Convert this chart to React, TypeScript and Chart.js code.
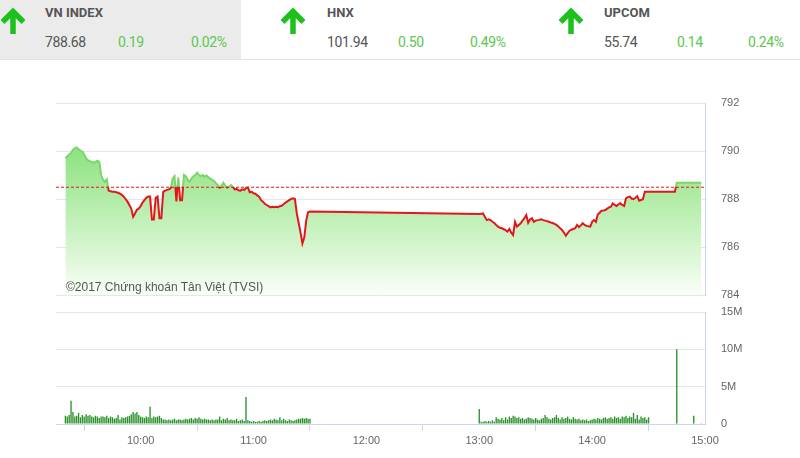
import React, { useEffect, useRef } from 'react';
import { Chart, registerables } from 'chart.js';

Chart.register(...registerables);

// ---------- data ----------
const REF_VALUE = 788.49;
const X_MIN = '9:15';
const X_MAX = '15:00';

const lineTimes = [
  '9:20','9:21','9:22','9:23','9:24','9:25','9:26','9:27','9:28','9:29',
  '9:30','9:31','9:32','9:33','9:34','9:35','9:36','9:37','9:38','9:39',
  '9:40','9:41','9:42','9:43','9:44','9:45','9:46','9:47','9:48','9:49',
  '9:50','9:51','9:52','9:53','9:54','9:55','9:56','9:57','9:58','9:59',
  '10:00','10:01','10:02','10:03','10:04','10:05','10:06','10:07','10:08','10:09',
  '10:10','10:11','10:12','10:13','10:14','10:15','10:16','10:17','10:18','10:19',
  '10:20','10:21','10:22','10:23','10:24','10:25','10:26','10:27','10:28','10:29',
  '10:30','10:31','10:32','10:33','10:34','10:35','10:36','10:37','10:38','10:39',
  '10:40','10:41','10:42','10:43','10:44','10:45','10:46','10:47','10:48','10:49',
  '10:50','10:51','10:52','10:53','10:54','10:55','10:56','10:57','10:58','10:59',
  '11:00','11:01','11:02','11:03','11:04','11:05','11:06','11:07','11:08','11:09',
  '11:10','11:11','11:12','11:13','11:14','11:15','11:16','11:17','11:18','11:19',
  '11:20','11:21','11:22','11:23','11:24','11:25','11:26','11:27','11:28','11:29',
  '11:30',
  '13:00','13:02','13:03','13:04','13:05','13:06','13:07','13:08','13:09',
  '13:10','13:11','13:12','13:13','13:14','13:15','13:16','13:17','13:18','13:19',
  '13:20','13:21','13:22','13:23','13:24','13:25','13:26','13:27','13:28','13:29',
  '13:30','13:31','13:32','13:33','13:34','13:35','13:36','13:37','13:38','13:39',
  '13:40','13:41','13:42','13:43','13:44','13:45','13:46','13:47','13:48','13:49',
  '13:50','13:51','13:52','13:53','13:54','13:55','13:56','13:57','13:58','13:59',
  '14:00','14:01','14:02','14:03','14:04','14:05','14:06','14:07','14:08','14:09',
  '14:10','14:11','14:12','14:13','14:14','14:15','14:16','14:17','14:18','14:19',
  '14:20','14:21','14:22','14:23','14:24','14:25','14:26','14:27','14:28',
  '14:44','14:45','14:58',
];

const lineValues = [
  789.70, 789.78, 789.85, 789.92, 790.05, 790.12, 790.15, 790.07, 790.02, 789.97,
  789.85, 789.70, 789.62, 789.58, 789.55, 789.51, 789.55, 789.60, 789.55, 789.00,
  788.80, 788.72, 788.82, 788.35, 788.32, 788.30, 788.30, 788.28, 788.26, 788.22,
  788.17, 788.10, 788.00, 787.89, 787.75, 787.60, 787.26, 787.40, 787.55, 787.60,
  787.70, 787.85, 787.95, 788.05, 788.10, 788.10, 787.15, 787.15, 788.05, 788.10,
  787.20, 787.20, 788.30, 788.35, 788.38, 788.40, 788.45, 788.85, 788.95, 787.90,
  788.90, 787.95, 787.95, 789.00, 788.95, 788.80, 788.72, 788.85, 788.95, 789.00,
  789.10, 789.00, 788.95, 789.00, 788.93, 788.98, 788.90, 788.85, 788.80, 788.75,
  788.66, 788.58, 788.47, 788.55, 788.68, 788.55, 788.48, 788.52, 788.58, 788.50,
  788.40, 788.42, 788.36, 788.35, 788.40, 788.38, 788.45, 788.49, 788.28, 788.30,
  788.24, 788.22, 788.15, 788.10, 787.95, 787.89, 787.80, 787.75, 787.70, 787.65,
  787.68, 787.66, 787.68, 787.66, 787.70, 787.72, 787.78, 787.85, 787.90, 787.95,
  788.00, 788.03, 788.00, 787.40, 787.00, 786.60, 786.15, 786.40, 787.10, 787.45,
  787.48,
  787.37, 787.40, 787.25, 787.12, 787.15, 787.12, 787.05, 787.00, 786.92,
  786.85, 786.80, 786.78, 786.74, 786.70, 786.64, 786.75, 786.60, 786.50, 787.05,
  786.85, 786.92, 786.99, 787.10, 787.20, 787.33, 787.01, 787.15, 787.20, 787.05,
  787.10, 787.12, 787.13, 787.15, 787.12, 787.10, 787.08, 787.05, 787.02, 787.00,
  786.96, 786.92, 786.85, 786.78, 786.71, 786.60, 786.47, 786.58, 786.68, 786.72,
  786.75, 786.78, 786.92, 786.83, 786.90, 786.99, 786.92, 786.88, 786.86, 786.85,
  787.05, 787.12, 787.05, 787.35, 787.43, 787.51, 787.52, 787.54, 787.60, 787.65,
  787.68, 787.82, 787.75, 787.71, 787.78, 787.82, 787.75, 787.71, 788.03, 788.08,
  788.10, 788.02, 787.99, 788.05, 788.12, 787.93, 787.96, 787.99, 788.30,
  788.30, 788.68, 788.68,
];

// volume, millions of shares per minute
const volMorningStart = '9:20';
const volMorning = [
  1.1, 1.0, 1.2, 3.1, 1.6, 1.0, 1.1, 1.5, 0.9, 1.2,
  1.0, 1.3, 1.1, 1.2, 1.0, 0.9, 1.1, 1.0, 0.8, 1.0,
  1.0, 0.9, 1.1, 0.8, 1.0, 0.9, 0.7, 0.8, 1.2, 0.6,
  0.9, 0.8, 0.9, 1.0, 1.1, 1.3, 1.6, 1.4, 1.6, 1.2,
  1.0, 0.9, 0.8, 1.0, 0.9, 2.3, 0.8, 1.0, 0.9, 1.0,
  1.1, 0.8, 0.6, 0.6, 0.5, 0.6, 0.5, 0.6, 0.7, 0.5,
  0.6, 0.6, 0.5, 0.6, 0.7, 0.6, 0.7, 0.8, 0.6, 0.8,
  0.7, 0.9, 0.7, 0.6, 0.7, 0.6, 0.6, 0.5, 0.6, 0.5,
  0.6, 0.6, 1.0, 0.5, 0.7, 0.6, 0.8, 0.5, 0.6, 0.5,
  0.5, 0.7, 0.4, 0.5, 0.6, 0.4, 3.6, 0.5, 0.4, 0.3,
  0.4, 0.3, 0.3, 0.4, 0.3, 0.4, 0.5, 0.4, 0.5, 0.6,
  0.5, 0.7, 0.6, 0.5, 0.9, 0.5, 0.7, 0.5, 0.4, 0.6,
  0.5, 0.4, 0.5, 0.6, 0.7, 0.7, 0.8, 0.7, 0.8, 0.7,
  0.7,
];
const volAfternoonStart = '13:00';
const volAfternoon = [
  2.0, 0.3, 0.3, 0.4, 0.3, 0.4, 0.3, 0.5, 0.3, 0.9,
  0.7, 0.6, 0.8, 0.5, 0.9, 0.6, 1.0, 0.8, 1.1, 1.0,
  0.8, 0.9, 0.7, 0.8, 0.6, 0.7, 0.9, 0.8, 0.7, 0.6,
  0.8, 0.6, 0.5, 0.7, 0.8, 1.2, 0.9, 0.7, 0.6, 0.8,
  0.9, 1.2, 0.8, 0.6, 0.9, 0.7, 0.8, 1.0, 0.7, 0.6,
  0.9, 0.7, 0.6, 0.7, 0.5, 0.6, 0.5, 0.6, 0.4, 0.5,
  0.6, 0.7, 0.6, 0.8, 0.7, 0.6, 0.8, 0.9, 0.7, 0.8,
  0.9, 0.7, 1.0, 0.8, 0.9, 0.7, 1.0, 0.9, 1.1, 0.8,
  1.0, 0.9, 1.5, 0.7, 1.2, 0.6, 1.0, 0.8, 0.9, 0.6,
  0.9,
];
const volCloseTimes = ['14:45', '14:54', '14:58'];
const volClose = [10.0, 1.1, 0.1];

const priceTicks = [784, 786, 788, 790, 792];
const volTicks = [0, 5, 10, 15];
const timeTicks = ['10:00', '11:00', '12:00', '13:00', '14:00', '15:00'];

const headerNames = ['VN INDEX', 'HNX', 'UPCOM'];
const headerPrices = ['788.68', '101.94', '55.74'];
const headerChanges = ['0.19', '0.50', '0.14'];
const headerPercents = ['0.02%', '0.49%', '0.24%'];

const WATERMARK = '©2017 Chứng khoán Tân Việt (TVSI)';

// ---------- helpers ----------
const toMin = (s: string) => {
  const [h, m] = s.split(':').map(Number);
  return h * 60 + m;
};
const fmtTime = (v: number) => `${Math.floor(v / 60)}:${String(v % 60).padStart(2, '0')}`;
const minuteSeries = (start: string, vals: number[]) =>
  vals.map((v, i) => ({ x: toMin(start) + i, y: v }));

const AXIS_FONT = { family: '"Liberation Sans", Arial, sans-serif', size: 11 };
const RED = '#e3161c';
const GREEN_EDGE = 'rgb(122,214,106)';

function PriceChart() {
  const ref = useRef<HTMLCanvasElement | null>(null);
  useEffect(() => {
    if (!ref.current) return;
    const chart = new Chart(ref.current, {
      type: 'line',
      data: {
        datasets: [
          {
            data: lineTimes.map((t, i) => ({ x: toMin(t), y: lineValues[i] })),
            borderWidth: 2,
            borderColor: (ctx: any) => {
              const c = ctx.chart;
              const a = c.chartArea;
              if (!a) return RED;
              const yRef = c.scales.y.getPixelForValue(REF_VALUE);
              const stop = Math.min(1, Math.max(0, (yRef - a.top) / (a.bottom - a.top)));
              const g = c.ctx.createLinearGradient(0, a.top, 0, a.bottom);
              g.addColorStop(0, GREEN_EDGE);
              g.addColorStop(stop, GREEN_EDGE);
              g.addColorStop(stop, RED);
              g.addColorStop(1, RED);
              return g;
            },
            backgroundColor: (ctx: any) => {
              const c = ctx.chart;
              const a = c.chartArea;
              if (!a) return 'rgba(150,228,138,0.8)';
              const g = c.ctx.createLinearGradient(0, a.top, 0, a.bottom);
              g.addColorStop(0, 'rgb(128,221,113)');
              g.addColorStop(0.3, 'rgb(150,228,137)');
              g.addColorStop(0.55, 'rgb(185,238,175)');
              g.addColorStop(0.8, 'rgb(220,247,215)');
              g.addColorStop(1, 'rgb(250,254,249)');
              return g;
            },
            fill: 'start',
            pointRadius: 0,
            tension: 0,
            order: 1,
          },
          {
            data: [
              { x: toMin(X_MIN), y: REF_VALUE },
              { x: toMin(X_MAX), y: REF_VALUE },
            ],
            borderColor: RED,
            borderWidth: 1,
            borderDash: [3, 2],
            pointRadius: 0,
            fill: false,
            order: 0,
          },
        ],
      },
      options: {
        animation: false,
        responsive: false,
        events: [],
        layout: { padding: { left: 56, top: 13, bottom: 10, right: 0 } },
        plugins: { legend: { display: false }, tooltip: { enabled: false } },
        scales: {
          x: { type: 'linear', min: toMin(X_MIN), max: toMin(X_MAX), display: false },
          y: {
            position: 'right',
            min: priceTicks[0],
            max: priceTicks[priceTicks.length - 1],
            afterBuildTicks: (s: any) => {
              s.ticks = priceTicks.map((v) => ({ value: v }));
            },
            afterFit: (s: any) => {
              s.width = 55;
            },
            grid: { color: '#e6e6e6', drawTicks: true, tickLength: 16, tickColor: 'rgba(0,0,0,0)' },
            border: { display: true, color: '#ccd6eb' },
            ticks: { color: '#666666', font: AXIS_FONT, padding: 0 },
          },
        },
      },
    } as any);
    return () => chart.destroy();
  }, []);
  return (
    <canvas
      ref={ref}
      width={760}
      height={215}
      style={{ position: 'absolute', left: 0, top: 90, width: 760, height: 215 }}
    />
  );
}

function VolumeChart() {
  const ref = useRef<HTMLCanvasElement | null>(null);
  useEffect(() => {
    if (!ref.current) return;
    const data = [
      ...minuteSeries(volMorningStart, volMorning),
      ...minuteSeries(volAfternoonStart, volAfternoon),
      ...volCloseTimes.map((t, i) => ({ x: toMin(t), y: volClose[i] })),
    ];
    const chart = new Chart(ref.current, {
      type: 'bar',
      data: {
        datasets: [
          {
            data,
            backgroundColor: '#2a922a',
            borderWidth: 0,
            barPercentage: 0.8,
            categoryPercentage: 0.9,
          },
        ],
      },
      options: {
        animation: false,
        responsive: false,
        events: [],
        layout: { padding: { left: 56, top: 7, bottom: 0, right: 0 } },
        plugins: { legend: { display: false }, tooltip: { enabled: false } },
        scales: {
          x: {
            type: 'linear',
            offset: false,
            min: toMin(X_MIN),
            max: toMin(X_MAX),
            afterBuildTicks: (s: any) => {
              s.ticks = timeTicks.map((t) => ({ value: toMin(t) }));
            },
            afterFit: (s: any) => {
              s.height = 34;
            },
            grid: { drawOnChartArea: false, drawTicks: true, tickLength: 7, color: '#ccd6eb' },
            border: { display: true, color: '#ccd6eb' },
            ticks: {
              color: '#666666',
              font: AXIS_FONT,
              padding: 3,
              maxRotation: 0,
              autoSkip: false,
              callback: (v: any) => fmtTime(Number(v)),
            },
          },
          y: {
            position: 'right',
            min: volTicks[0],
            max: volTicks[volTicks.length - 1],
            afterBuildTicks: (s: any) => {
              s.ticks = volTicks.map((v) => ({ value: v }));
            },
            afterFit: (s: any) => {
              s.width = 55;
            },
            grid: { color: '#e6e6e6', drawTicks: true, tickLength: 16, tickColor: 'rgba(0,0,0,0)' },
            border: { display: true, color: '#ccd6eb' },
            ticks: {
              color: '#666666',
              font: AXIS_FONT,
              padding: 0,
              callback: (v: any) => (Number(v) === 0 ? '0' : `${v}M`),
            },
          },
        },
      },
    } as any);
    return () => chart.destroy();
  }, []);
  return (
    <canvas
      ref={ref}
      width={760}
      height={153}
      style={{ position: 'absolute', left: 0, top: 305, width: 760, height: 153 }}
    />
  );
}

function UpArrow({ left }: { left: number }) {
  return (
    <svg
      width={28}
      height={30}
      style={{ position: 'absolute', left, top: 7 }}
      viewBox="0 0 28 30"
    >
      <path
        d="M13 27 V5 M2.5 15 L13 4.5 L23.5 15"
        stroke="#1cc21c"
        strokeWidth={5.5}
        fill="none"
        strokeLinejoin="miter"
      />
    </svg>
  );
}

const arrowLefts = [0, 280, 558];
const titleLefts = [45, 327, 604];
const changeLefts = [118, 398, 677];
const pctLefts = [191, 470, 748];

function Header() {
  const font = 'Roboto, "Noto Sans", sans-serif';
  return (
    <div style={{ position: 'absolute', left: 0, top: 0, width: 800, height: 60 }}>
      <div style={{ position: 'absolute', left: 0, top: 0, width: 241, height: 59, background: '#ebebeb' }} />
      <div style={{ position: 'absolute', left: 0, top: 59, width: 800, height: 1, background: '#e2e2e2' }} />
      {headerNames.map((name, i) => (
        <React.Fragment key={name}>
          <UpArrow left={arrowLefts[i]} />
          <div
            style={{
              position: 'absolute', left: titleLefts[i], top: 4, fontFamily: font, fontWeight: 700,
              fontSize: 13, lineHeight: '18px', color: '#555555', whiteSpace: 'nowrap',
            }}
          >
            {name}
          </div>
          <div
            style={{
              position: 'absolute', left: titleLefts[i], top: 33, fontFamily: font, fontSize: 14,
              letterSpacing: -0.4, lineHeight: '18px', color: '#555555', whiteSpace: 'nowrap',
            }}
          >
            {headerPrices[i]}
          </div>
          <div
            style={{
              position: 'absolute', left: changeLefts[i], top: 33, fontFamily: font, fontSize: 14,
              letterSpacing: -0.4, lineHeight: '18px', color: '#5cc74f', whiteSpace: 'nowrap',
            }}
          >
            {headerChanges[i]}
          </div>
          <div
            style={{
              position: 'absolute', left: pctLefts[i], top: 33, fontFamily: font, fontSize: 14,
              letterSpacing: -0.4, lineHeight: '18px', color: '#5cc74f', whiteSpace: 'nowrap',
            }}
          >
            {headerPercents[i]}
          </div>
        </React.Fragment>
      ))}
    </div>
  );
}

export default function App() {
  return (
    <div
      style={{
        position: 'fixed', left: 0, top: 0, width: 800, height: 458,
        background: '#ffffff', overflow: 'hidden',
      }}
    >
      <Header />
      <PriceChart />
      <VolumeChart />
      <div
        style={{
          position: 'absolute', left: 66, top: 279, fontFamily: '"Liberation Sans", Arial, sans-serif',
          fontSize: 12, lineHeight: '16px', color: '#555555', whiteSpace: 'nowrap',
        }}
      >
        {WATERMARK}
      </div>
    </div>
  );
}
